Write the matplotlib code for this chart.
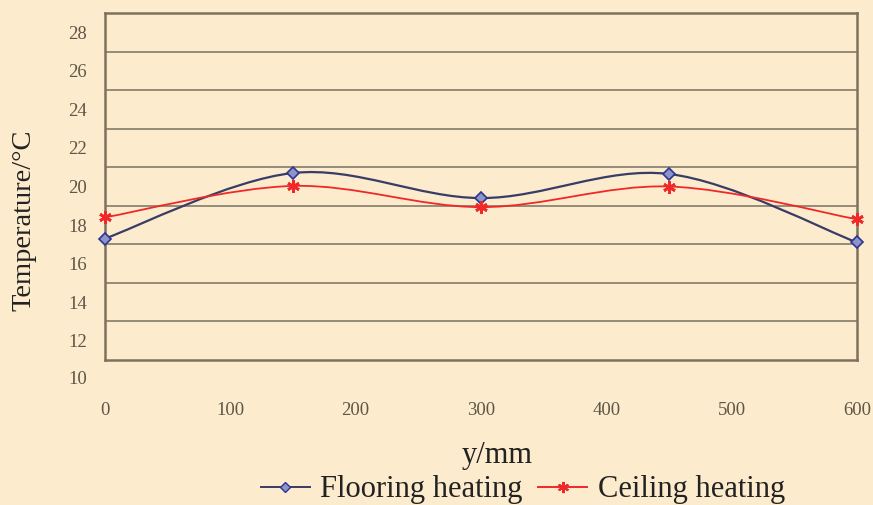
import numpy as np
import matplotlib
matplotlib.use("Agg")
import matplotlib.pyplot as plt
import matplotlib.transforms as mtransforms
from matplotlib.path import Path
from matplotlib.patches import PathPatch
from matplotlib.lines import Line2D

# ---- data ----
positions = [0, 150, 300, 450, 600]
flooring = [17.3, 20.7, 19.4, 20.65, 17.1]
ceiling = [18.4, 20.03, 18.93, 20.0, 18.3]
x_ticks = [0, 100, 200, 300, 400, 500, 600]
y_ticks = [10, 12, 14, 16, 18, 20, 22, 24, 26, 28]
series_names = ["Flooring heating", "Ceiling heating"]

BG = "#fcebcc"
FRAME = "#7d725e"
GRID = "#8c8472"
TXT = "#5e5646"

plt.rcParams['font.family'] = ['Liberation Serif', 'DejaVu Serif']

fig = plt.figure(figsize=(8.73, 5.05), dpi=100, facecolor=BG)
ax = fig.add_axes([105/873, 1-360/505, (857-105)/873, (360-13)/505])
ax.set_facecolor(BG)
ax.set_xlim(0, 600)
ax.set_ylim(11, 29)


def smooth_path(xs, ys):
    pts = np.column_stack([xs, ys]).astype(float)
    n = len(pts)
    verts = [pts[0]]
    codes = [Path.MOVETO]
    for i in range(n - 1):
        p0 = pts[i - 1] if i > 0 else pts[i]
        p1 = pts[i]
        p2 = pts[i + 1]
        p3 = pts[i + 2] if i + 2 < n else pts[i + 1]
        c1 = p1 + (p2 - p0) / 6.0
        c2 = p2 - (p3 - p1) / 6.0
        verts += [c1, c2, p2]
        codes += [Path.CURVE4] * 3
    return Path(verts, codes)


fl_color = "#383c66"
ce_color = "#f02828"
ax.add_patch(PathPatch(smooth_path(positions, flooring), fill=False,
                       edgecolor=fl_color, lw=1.6, zorder=3))
ax.add_patch(PathPatch(smooth_path(positions, ceiling), fill=False,
                       edgecolor=ce_color, lw=1.3, zorder=3))
ax.plot(positions, flooring, ls='none', marker='D', ms=6, mfc="#8d95c8",
        mec="#2c3590", mew=1.2, zorder=5, clip_on=False)
ax.plot(positions, ceiling, ls='none', marker=(6, 2, 0), ms=9,
        mec=ce_color, mew=2.0, zorder=5, clip_on=False)

# grid lines between labels
ax.set_yticks([13, 15, 17, 19, 21, 23, 25, 27], minor=True)
ax.grid(True, which='minor', axis='y', color=GRID, lw=1.3)
ax.tick_params(which='minor', length=0)

TICK_FS = 13.5
ax.set_yticks(y_ticks[1:])
ax.set_yticklabels([str(v) for v in y_ticks[1:]])
ax.tick_params(axis='y', which='major', length=0, pad=13, labelsize=TICK_FS,
               labelcolor=TXT)
ax.text(0, y_ticks[0], str(y_ticks[0]),
        transform=ax.get_yaxis_transform() +
        mtransforms.ScaledTranslation(-13/72, 0, fig.dpi_scale_trans),
        ha='right', va='center', fontsize=TICK_FS, color=TXT, clip_on=False)

ax.set_xticks(x_ticks)
ax.set_xticklabels([str(v) for v in x_ticks])
ax.tick_params(axis='x', length=0, pad=30, labelsize=TICK_FS, labelcolor=TXT)

for s in ax.spines.values():
    s.set_color(FRAME)
    s.set_linewidth(1.8)

fig.text(24/873, 1-220/505, "Temperature/°C", rotation=90, ha='center',
         va='center', fontsize=20.5, color="#222222")
fig.text(497/873, 1-455/505, "y/mm", ha='center', va='center',
         fontsize=22, color="#222222")

handles = [
    Line2D([], [], color=fl_color, lw=1.4, marker='D', ms=5, mfc="#8d95c8",
           mec="#2c3590"),
    Line2D([], [], color=ce_color, lw=1.4, marker=(6, 2, 0), ms=8,
           mec=ce_color, mew=1.5),
]
fig.legend(handles, series_names, loc='center', bbox_to_anchor=(523/873, 1-490/505),
           ncol=2, frameon=False, fontsize=22, handlelength=1.6,
           handletextpad=0.35, columnspacing=0.5, labelcolor="#222222",
           borderpad=0.1)

fig.savefig("out.png", dpi=100, facecolor=BG)
